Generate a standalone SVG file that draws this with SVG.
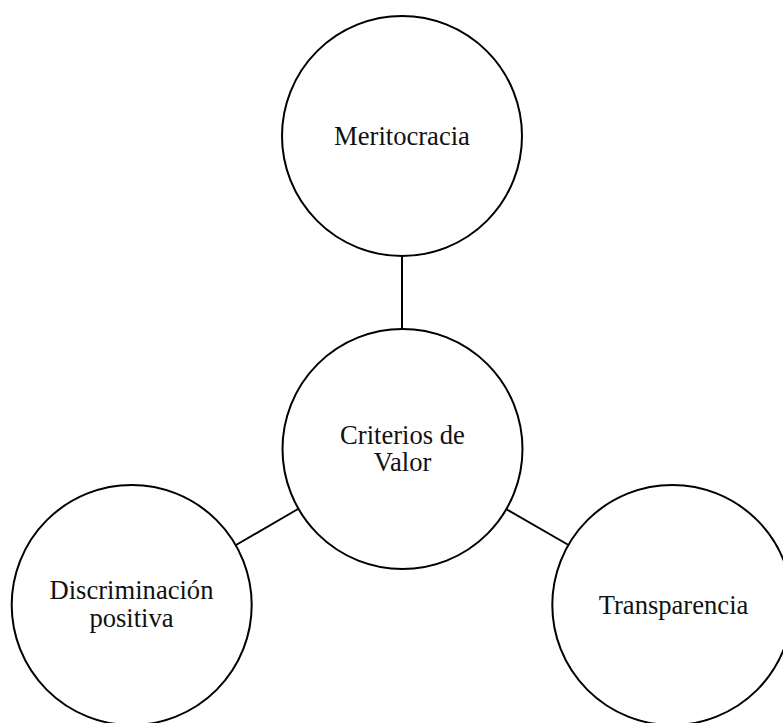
<svg xmlns="http://www.w3.org/2000/svg" width="783" height="723" viewBox="0 0 783 723">
  <style>
    .node circle { fill: #ffffff; stroke: #000000; stroke-width: 2; }
    .node text { font-family: "Liberation Serif", "Times New Roman", serif; font-size: 26.6px; fill: #111111; text-anchor: middle; }
    .edge { stroke: #000000; stroke-width: 2; fill: none; }
  </style>
  <rect width="783" height="723" fill="#ffffff"/>
  <g id="connectors">
    <line class="edge" x1="402" y1="256" x2="402" y2="329"/>
    <line class="edge" x1="298" y1="509" x2="236" y2="545"/>
    <line class="edge" x1="506" y1="509" x2="568.5" y2="545"/>
  </g>
  <g id="node-meritocracia" class="node">
    <circle cx="402" cy="136" r="120"/>
    <text x="402" y="145">Meritocracia</text>
  </g>
  <g id="node-criterios" class="node">
    <circle cx="402.5" cy="449" r="120"/>
    <text x="402.5" y="444">Criterios de</text>
    <text x="402.5" y="471">Valor</text>
  </g>
  <g id="node-discriminacion" class="node">
    <circle cx="131.7" cy="605" r="120"/>
    <text x="131.5" y="599">Discriminación</text>
    <text x="131.5" y="626.5">positiva</text>
  </g>
  <g id="node-transparencia" class="node">
    <circle cx="672.3" cy="605" r="120"/>
    <text x="673.5" y="614">Transparencia</text>
  </g>
</svg>
